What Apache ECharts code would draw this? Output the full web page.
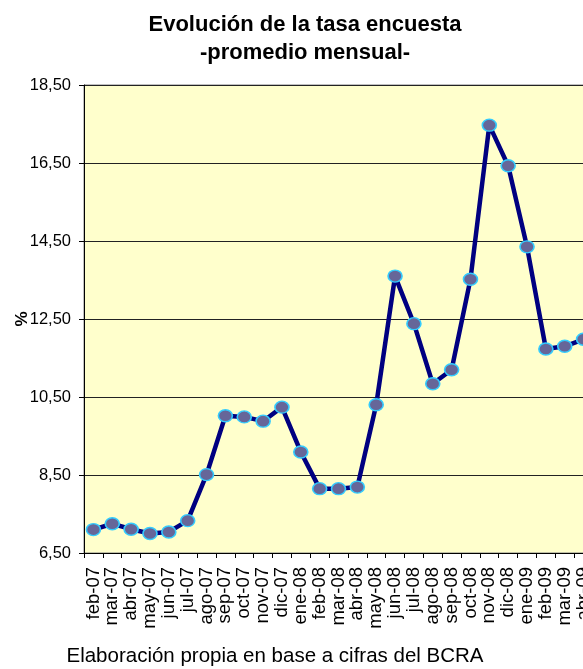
<!DOCTYPE html>
<html>
<head>
<meta charset="utf-8">
<script src="https://cdn.jsdelivr.net/npm/echarts@6/dist/echarts.min.js"></script>
<style>
html,body{margin:0;padding:0;background:#fff;}
#chart{width:583px;height:669px;}
</style>
</head>
<body>
<div id="chart"></div>
<script>
const categories = ['feb-07','mar-07','abr-07','may-07','jun-07','jul-07','ago-07','sep-07','oct-07','nov-07','dic-07','ene-08','feb-08','mar-08','abr-08','may-08','jun-08','jul-08','ago-08','sep-08','oct-08','nov-08','dic-08','ene-09','feb-09','mar-09','abr-09'];
const tasa = [7.10,7.25,7.11,7.00,7.04,7.33,8.51,10.02,9.99,9.88,10.24,9.09,8.15,8.15,8.19,10.30,13.60,12.38,10.84,11.20,13.52,17.47,16.43,14.35,11.73,11.80,11.98];
const yTicks = [6.5,8.5,10.5,12.5,14.5,16.5,18.5];
const titleText = 'Evolución de la tasa encuesta\n-promedio mensual-';
const sourceText = 'Elaboración propia en base a cifras del BCRA';

const chart = echarts.init(document.getElementById('chart'), null, {renderer:'canvas'});
const FF = '"Liberation Sans", Arial, sans-serif';
chart.setOption({
  animation:false,
  backgroundColor:'#ffffff',
  title:[{
    text:titleText, left:300, top:6, textAlign:'center',
    textStyle:{fontFamily:FF,fontSize:22,fontWeight:'bold',color:'#000',lineHeight:28}
  },{
    text:sourceText, left:270, top:641, textAlign:'center',
    textStyle:{fontFamily:FF,fontSize:20.5,fontWeight:'normal',color:'#000'}
  }],
  grid:{left:84,top:85,right:-10,bottom:116,containLabel:false,outerBoundsMode:'none',show:true,backgroundColor:'#FFFFCC',borderColor:'#808080',borderWidth:1},
  xAxis:{
    type:'category', data:categories, boundaryGap:true,
    axisLine:{lineStyle:{color:'#000',width:1}},
    axisTick:{show:true,length:5,lineStyle:{color:'#000'}},
    axisLabel:{rotate:90,interval:0,margin:14,fontFamily:FF,fontSize:18.5,color:'#000'},
    splitLine:{show:false}
  },
  yAxis:{
    type:'value', min:6.5, max:18.5,
    name:'%', nameLocation:'middle', nameGap:53, nameRotate:90, nameMoveOverlap:false,
    nameTextStyle:{fontFamily:FF,fontSize:17,fontWeight:'bold',color:'#000'},
    axisLine:{show:true,lineStyle:{color:'#000',width:1}},
    axisTick:{show:true,length:5,lineStyle:{color:'#000'},customValues:yTicks},
    axisLabel:{fontFamily:FF,fontSize:16.5,color:'#000',margin:13,customValues:yTicks,
      formatter:v=>v.toFixed(2).replace('.',',')},
    splitLine:{show:true,lineStyle:{color:'#222',width:1}}
  },
  series:[{
    type:'line', data:tasa,
    lineStyle:{color:'#000080',width:4.5},
    symbol:'circle', symbolSize:[14,12],
    itemStyle:{color:'#666699',borderColor:'#33CCFF',borderWidth:1.5},
    z:3
  }]
});
</script>
</body>
</html>
